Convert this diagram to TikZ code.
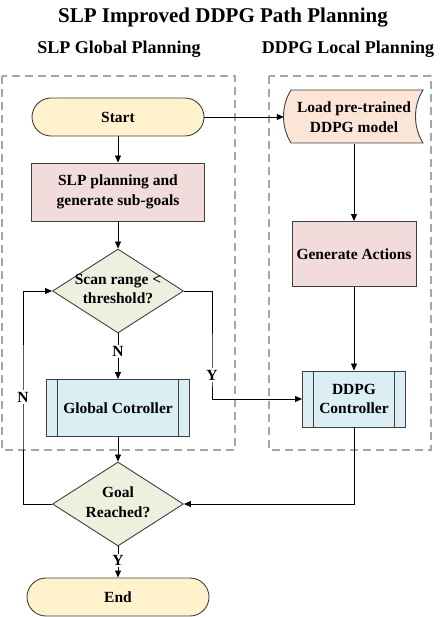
\documentclass[tikz,border=0pt]{standalone}
\usepackage{fontspec}
\setmainfont{Liberation Serif}
\usetikzlibrary{shapes.geometric,arrows.meta}
\definecolor{termfill}{HTML}{FFF2CC}
\definecolor{loadfill}{HTML}{FBE5D6}
\definecolor{procfill}{HTML}{F2DCDB}
\definecolor{decfill}{HTML}{EBF1DE}
\definecolor{ctrlfill}{HTML}{DAEEF3}
\definecolor{edgec}{HTML}{404040}
\definecolor{dashgray}{HTML}{A6A6A6}
\begin{document}
\begin{tikzpicture}[x=1pt,y=-1pt,
  txt/.style={font=\fontsize{15.5}{19.5}\selectfont\bfseries, align=center, text=black},
  term/.style={txt, draw=edgec, line width=0.9pt, fill=termfill, rounded corners=19pt, minimum width=#1, minimum height=38pt, inner sep=0pt},
  proc/.style={txt, draw=edgec, line width=0.9pt, fill=procfill, minimum width=173pt, minimum height=58pt, inner sep=0pt},
  dec/.style={draw=edgec, line width=0.9pt, fill=decfill, diamond, minimum width=131pt, minimum height=84pt, inner sep=0pt},
  ctrl/.style={txt, draw=edgec, line width=0.9pt, fill=ctrlfill, inner sep=0pt,
    path picture={\draw[edgec, line width=0.9pt]
      ([xshift=11pt]path picture bounding box.north west) -- ([xshift=11pt]path picture bounding box.south west)
      ([xshift=-11pt]path picture bounding box.north east) -- ([xshift=-11pt]path picture bounding box.south east);}},
  arr/.style={draw=black, line width=0.8pt, -{Triangle[length=7pt,width=6pt]}},
  lab/.style={txt, fill=white, inner sep=1.5pt},
  dashbox/.style={draw=dashgray, line width=1.4pt, dash pattern=on 8pt off 5pt}
]
\useasboundingbox (0,0) rectangle (447,617);

% titles
\node[font=\fontsize{21}{25}\selectfont\bfseries] (title) at (223,18) {SLP Improved DDPG Path Planning};
\node[font=\fontsize{18}{22}\selectfont\bfseries] (subl) at (119,49) {SLP Global Planning};
\node[font=\fontsize{18}{22}\selectfont\bfseries] (subr) at (348,49) {DDPG Local Planning};

% dashed regions
\draw[dashbox] (2,76) rectangle (235,450);
\draw[dashbox] (269,76) rectangle (431,450);

% left column
\node[term=172pt] (start) at (118,117) {Start};
\node[proc] (slp) at (118,192) {SLP planning and\\generate sub-goals};
\node[dec] (scan) at (118,291) {};
\node[txt] (scantxt) at (118,289) {Scan range <\\threshold?};
\node[ctrl, minimum width=143pt, minimum height=57pt] (glob) at (118,408) {Global Cotroller};
\node[dec] (goal) at (118,504) {};
\node[txt] (goaltxt) at (118,502) {Goal\\Reached?};
\node[term=182pt] (end) at (118,597) {End};

% right column
\draw[edgec, line width=0.9pt, fill=loadfill]
  (291,90) -- (423,90) .. controls (413,106) and (413,127) .. (423,143)
  -- (291,143) .. controls (281,127) and (281,106) .. (291,90) -- cycle;
\node[txt, minimum width=139pt, minimum height=53pt, inner sep=0pt] (load) at (354,117) {Load pre-trained\\DDPG model};
\node[proc, minimum width=124pt, minimum height=65pt] (gen) at (354,254) {Generate Actions};
\node[ctrl, minimum width=103pt, minimum height=56pt] (ddpg) at (354,399) {DDPG\\Controller};

% connectors
\coordinate (yturn) at (212,375);
\coordinate (nloop) at (23,397);
\draw[arr] (start) -- (slp);
\draw[arr] (start.east) -- ([xshift=-0.5pt]load.west);
\draw[arr] (load) -- (gen);
\draw[arr] (gen) -- (ddpg);
\draw[arr] (slp) -- (scan);
\draw[arr] (scan) -- node[lab, pos=0.4] {N} (glob);
\draw[arr] (scan.east) -| (yturn) |- (ddpg.west);
\node[lab] (ylab) at (yturn) {Y};
\draw[arr] (glob) -- (goal);
\draw[arr] (ddpg.south) |- (goal.east);
\draw[arr] (goal.west) -| (nloop) |- (scan.west);
\node[lab] (nlab) at (nloop) {N};
\draw[arr] (goal) -- node[lab, pos=0.45] {Y} (end);
\end{tikzpicture}
\end{document}
